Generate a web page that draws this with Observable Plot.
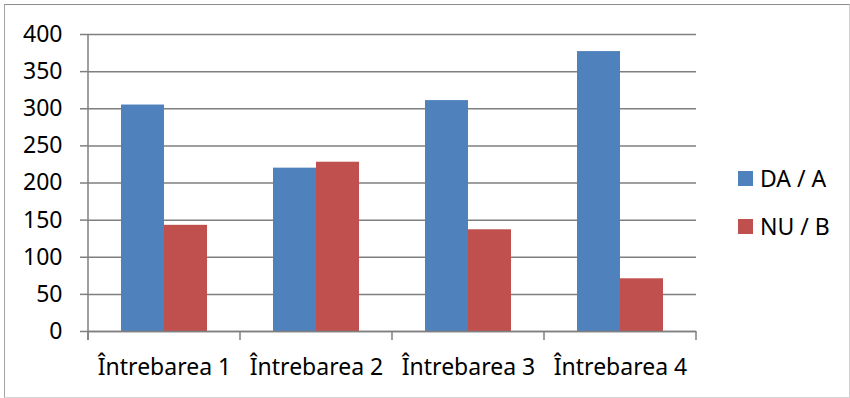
<!DOCTYPE html>
<html>
<head>
<meta charset="utf-8">
<script src="https://cdn.jsdelivr.net/npm/d3@7"></script>
<script src="https://cdn.jsdelivr.net/npm/@observablehq/plot@0.6"></script>
<style>
  html, body { margin: 0; padding: 0; background: #fff; }
  #wrap { position: relative; width: 850px; height: 398px; overflow: hidden; font-family: "Noto Sans", sans-serif; }
  #border { position: absolute; left: 4px; top: 4px; width: 846px; height: 394px; box-sizing: border-box;
            border-style: solid; border-width: 1px; border-color: #8c8c8c #cfcfcf #d4d4d4 #a3a3a3; pointer-events: none; }
  #chart { position: absolute; left: 0; top: 0; }
  .legend-row { position: absolute; left: 738px; height: 30px; display: flex; align-items: center; font-size: 23px; color: #000; white-space: nowrap; }
  .legend-row .sw { width: 15px; height: 15px; margin-right: 7px; flex: none; }
</style>
</head>
<body>
<div id="wrap">
  <div id="chart"></div>
  <div id="legend"></div>
  <div id="border"></div>
</div>
<script>
// ---- data ----
const categories = ["Întrebarea 1", "Întrebarea 2", "Întrebarea 3", "Întrebarea 4"];
const seriesNames = ["DA / A", "NU / B"];
const daValues = [305, 220, 311, 377];
const nuValues = [143, 228, 137, 71];
const yTicks = [0, 50, 100, 150, 200, 250, 300, 350, 400];
const seriesColors = ["#4F81BD", "#C0504D"];

const rows = [];
categories.forEach((c, i) => {
  rows.push({category: c, series: seriesNames[0], value: daValues[i]});
  rows.push({category: c, series: seriesNames[1], value: nuValues[i]});
});

const gridColor = "#7f7f7f";
const lineW = 1.5;

const chart = Plot.plot({
  width: 850,
  height: 398,
  marginLeft: 88,
  marginRight: 154,
  marginTop: 34,
  marginBottom: 67,
  style: {fontFamily: "Noto Sans", fontSize: "23px", color: "#000", background: "transparent"},
  fx: {domain: categories, padding: 0, label: null},
  x: {domain: seriesNames, paddingInner: 0, paddingOuter: 0.755, axis: null, label: null},
  y: {domain: [0, 400], label: null},
  color: {domain: seriesNames, range: seriesColors},
  marks: [
    Plot.gridY(yTicks, {stroke: gridColor, strokeOpacity: 1, strokeWidth: lineW}),
    Plot.barY(rows, {fx: "category", x: "series", y: "value", fill: "series"}),
    Plot.ruleY([0], {stroke: gridColor, strokeWidth: lineW}),
    Plot.axisY(yTicks, {tickSize: 8, tickPadding: 18, stroke: gridColor, strokeWidth: lineW, fill: "#000", fontSize: 23, label: null}),
    Plot.axisFx({anchor: "bottom", tickSize: 0, tickPadding: 27, fontSize: 23, fill: "#000", label: null})
  ]
});

// category boundary ticks and the vertical value axis line, positioned from the plot's own scales
const fx = chart.scale("fx");
const ys = chart.scale("y");
const bounds = categories.map(c => fx.apply(c)).concat([fx.apply(categories[categories.length - 1]) + fx.bandwidth]);
const y0 = ys.apply(0), yTop = ys.apply(400);
const g = d3.select(chart).append("g").attr("stroke", gridColor).attr("stroke-width", lineW);
g.append("line").attr("x1", bounds[0]).attr("x2", bounds[0]).attr("y1", yTop).attr("y2", y0 + 9);
bounds.forEach(b => g.append("line").attr("x1", b).attr("x2", b).attr("y1", y0).attr("y2", y0 + 9));

document.getElementById("chart").appendChild(chart);

// legend
const legend = document.getElementById("legend");
const legendTops = [163, 211];
seriesNames.forEach((s, i) => {
  const row = document.createElement("div");
  row.className = "legend-row";
  row.style.top = legendTops[i] + "px";
  const sw = document.createElement("span");
  sw.className = "sw";
  sw.style.background = seriesColors[i];
  const t = document.createElement("span");
  t.textContent = s;
  row.appendChild(sw);
  row.appendChild(t);
  legend.appendChild(row);
});
</script>
</body>
</html>
